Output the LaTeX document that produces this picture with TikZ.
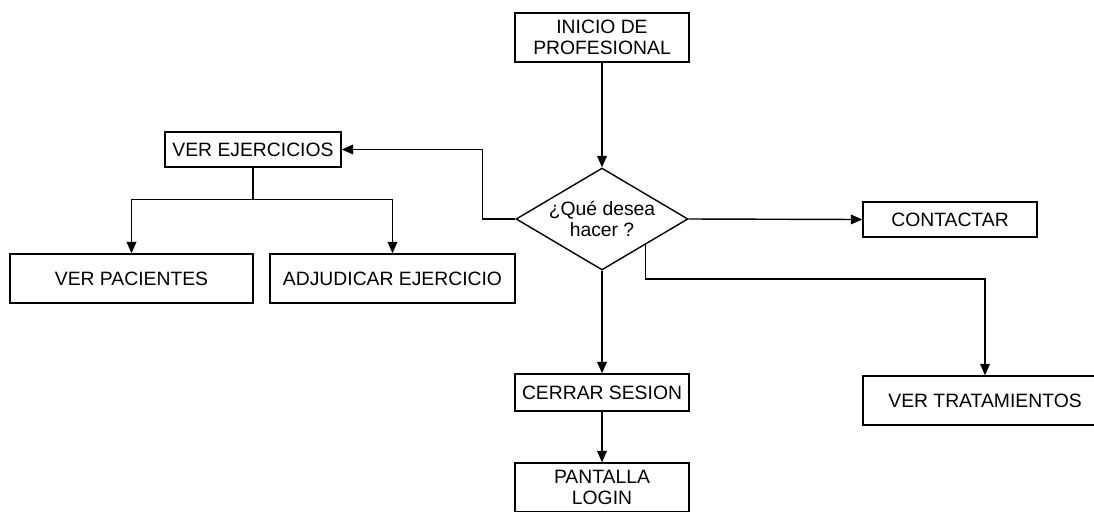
\documentclass[tikz,border=0pt]{standalone}
\usepackage{fontspec}
\setmainfont{Liberation Sans}
\usetikzlibrary{shapes.geometric,arrows.meta}
\begin{document}
\begin{tikzpicture}[x=0.02cm,y=-0.02cm,
    font=\fontsize{11}{12}\selectfont,
    box/.style={draw,line width=0.8pt,fill=white,align=center,inner sep=1pt},
    arr/.style={line width=0.8pt,-{Triangle[length=6.5pt,width=5.5pt]}},
    lin/.style={line width=0.8pt}]
      \useasboundingbox (0,0) rectangle (1094,511);
      \node[box,minimum width=3.48cm,minimum height=0.98cm] (inicio) at (602,37.5) {INICIO DE\\PROFESIONAL};
      \node[box,diamond,aspect=1.69,inner sep=0pt,minimum width=3.44cm,minimum height=2.04cm] (decide) at (602,219) {¿Qué desea\\hacer ?};
      \node[box,minimum width=3.52cm,minimum height=0.7cm] (ejercicios) at (253,149.5) {VER EJERCICIOS};
      \node[box,minimum width=4.86cm,minimum height=0.98cm] (pacientes) at (131.5,278.5) {VER PACIENTES};
      \node[box,minimum width=4.9cm,minimum height=0.98cm] (adjudicar) at (392.5,278.5) {ADJUDICAR EJERCICIO};
      \node[box,minimum width=3.48cm,minimum height=0.7cm] (contactar) at (950,219.5) {CONTACTAR};
      \node[box,minimum width=4.88cm,minimum height=0.98cm] (tratamientos) at (985,400.5) {VER TRATAMIENTOS};
      \node[box,minimum width=3.48cm,minimum height=0.74cm] (cerrar) at (602,392.5) {CERRAR SESION};
      \node[box,minimum width=3.48cm,minimum height=0.98cm] (pantalla) at (602,487.5) {PANTALLA\\LOGIN};
      \draw[arr] (inicio.south) -- (decide.north);
      \draw[arr] (decide.west) -- ++(-33,0) |- (ejercicios.east);
      \draw[lin] (ejercicios.south) -- ++(0,32) coordinate (split);
      \draw[arr] (split) -| (pacientes.north);
      \draw[arr] (split) -| (adjudicar.north);
      \draw[arr] (decide.east) -- (contactar.west);
      \draw[arr] (decide.south east) -- ++(0,34) -| (tratamientos.north);
      \draw[arr] (decide.south) -- (cerrar.north);
      \draw[arr] (cerrar.south) -- (pantalla.north);
    \end{tikzpicture}
\end{document}
